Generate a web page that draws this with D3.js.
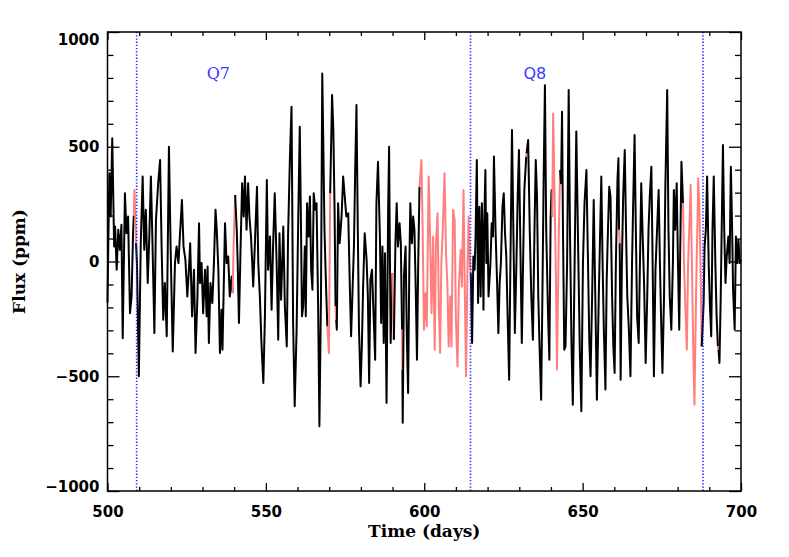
<!DOCTYPE html>
<html>
<head>
<meta charset="utf-8">
<script src="https://cdn.jsdelivr.net/npm/d3@7"></script>
<style>
  html, body { margin: 0; padding: 0; background: #fff; }
  svg { display: block; }
</style>
</head>
<body>
<svg id="chart" width="789" height="557"></svg>
<script>
// ---- data ----
const time = [
500.0,500.3,500.6,501.0,501.5,502.1,502.4,502.9,503.4,503.9,504.4,504.8,505.5,506.0,506.5,507.1,507.6,508.1,508.3,508.5,509.0,
509.3,509.9,510.5,511.1,511.6,512.1,512.7,513.2,513.7,514.2,514.8,515.3,516.0,516.6,517.1,517.6,518.1,518.7,519.4,519.9,
520.6,521.3,521.8,522.4,522.9,523.5,524.0,524.6,525.2,525.7,526.1,526.7,527.3,527.8,528.4,528.9,
529.2,529.7,530.2,530.8,531.3,531.6,532.0,532.5,533.1,533.6,534.1,534.5,535.0,535.5,536.0,536.3,537.1,537.6,538.1,538.6,539.2,
539.5,539.8,540.3,540.8,541.1,541.5,542.0,542.5,543.0,543.4,543.9,544.4,544.8,545.3,545.7,546.0,546.5,547.2,547.6,548.1,548.6,
549.2,549.7,550.3,550.7,551.3,551.8,552.3,552.8,553.4,553.9,554.3,554.8,555.5,556.0,556.6,557.0,557.6,558.1,
558.6,559.1,559.7,560.2,560.7,561.0,561.4,561.8,562.3,562.6,563.0,563.5,563.9,564.3,564.7,565.1,565.6,566.0,566.5,566.9,567.4,
567.8,568.1,568.5,568.9,569.4,569.9,570.3,570.9,571.3,571.7,572.0,572.2,572.4,572.8,573.3,573.9,574.4,574.9,575.4,576.0,576.5,
576.9,577.3,577.8,578.2,578.6,579.0,579.4,579.9,580.3,580.7,581.2,581.8,582.2,582.6,583.0,583.5,584.1,584.5,584.9,585.4,586.0,
586.4,586.8,587.2,587.6,588.1,588.6,588.9,
589.1,589.4,589.9,590.4,590.9,591.3,591.7,592.2,592.6,593.0,593.1,593.2,593.6,594.1,594.5,594.9,595.3,595.6,596.1,596.5,596.9,
597.3,597.7,598.1,598.5,599.1,599.5,599.9,600.4,600.8,601.4,601.8,602.3,602.8,603.3,603.7,604.2,604.6,605.0,605.4,605.8,606.4,
606.9,607.3,607.7,608.2,608.6,609.1,609.6,610.0,610.5,610.9,611.5,611.9,612.4,612.8,613.2,613.6,614.0,614.4,614.7,615.1,615.5,
615.9,616.2,616.6,617.0,617.4,617.8,618.2,618.7,
618.9,619.3,619.6,619.9,620.3,620.9,621.3,621.7,622.0,622.5,623.0,623.4,623.8,624.2,624.7,625.1,625.5,625.9,626.3,626.8,627.2,
627.7,628.1,628.6,629.1,629.5,629.9,630.3,630.8,631.2,631.6,632.2,632.3,632.8,633.3,633.8,634.3,634.8,635.2,635.6,636.0,636.4,
636.9,637.3,637.7,638.1,638.5,639.1,639.5,639.9,640.2,640.4,640.7,641.5,641.9,642.5,642.9,643.2,643.5,643.8,644.2,644.6,645.1,
645.6,646.0,646.5,646.9,
648.0,648.5,649.1,649.6,650.1,650.6,651.2,651.7,652.1,652.5,653.0,653.5,654.0,654.5,655.1,655.5,655.9,656.3,656.7,657.2,657.6,
658.0,658.4,658.8,659.3,659.7,660.1,660.5,661.0,661.3,661.5,661.7,662.0,662.4,662.8,663.3,663.7,664.1,664.6,665.1,665.6,666.0,
666.4,666.8,667.2,667.7,668.1,668.5,668.9,669.4,669.9,670.4,670.8,671.2,671.7,672.1,672.5,673.0,673.5,674.0,674.4,674.8,675.2,
675.7,676.1,676.7,677.1,677.5,678.0,
678.5,678.8,679.2,679.7,680.1,680.5,680.9,681.2,681.7,682.0,682.4,682.9,683.3,683.8,684.1,684.5,684.9,685.3,685.8,686.2,686.5,
686.9,687.2,687.6,688.2,688.5,688.9,689.3,689.8,690.2,690.6,691.0,691.4,691.9,692.3,692.7,692.9,693.2,693.6,693.9,694.3,694.7,
695.1,695.5,696.0,696.4,696.8,697.2,697.5,698.0,698.4,698.8,699.2,699.6,700.0
];
const flux = [
-180,120,384,196,537,65,152,-36,138,51,160,-334,297,123,196,-225,-152,138,200,312,80,
-7,-500,80,370,51,225,-94,109,370,80,-312,181,341,442,51,-254,-94,-326,500,80,
-392,-7,65,-7,123,268,65,7,-152,-36,80,-239,-36,-399,-152,167,
-94,-7,-225,-36,-239,-22,-355,-94,-181,-7,225,138,-36,-399,-210,-384,167,-7,22,-152,-65,
-138,65,290,138,-7,-268,51,341,196,370,138,341,196,109,-7,-109,65,326,-7,-152,-355,
-529,-239,355,-36,109,-210,80,297,-7,-341,123,-167,152,-196,-370,109,457,674,
-268,-631,-297,167,587,254,-239,-196,65,-239,254,109,283,-36,-123,297,225,254,-196,-718,-152,
819,544,138,-65,-283,-399,297,725,573,210,-196,-254,-297,254,80,196,370,283,196,210,-109,
-326,-152,65,399,682,167,-297,-544,-370,-109,123,7,-152,-529,-80,-36,-268,-428,254,435,109,
-268,65,-355,36,-616,225,500,
109,-355,-51,-341,80,254,65,167,80,-297,-471,-703,-65,65,-326,-573,-7,254,80,196,138,
-109,-428,-7,326,442,138,-297,-138,-283,370,138,-225,109,-384,80,210,-196,-399,-7,123,384,
22,-94,-370,-152,-370,225,181,-254,-457,-123,51,-109,312,-123,-500,-80,196,-7,-51,-355,22,
-36,109,442,-181,239,-152,254,-210,
138,399,-7,210,-152,-7,167,109,457,138,-94,-312,-94,-7,239,297,123,22,-225,-515,-7,
573,167,-312,-7,283,486,109,-355,-7,312,457,471,529,138,-152,-341,138,442,283,-152,-370,
-602,-152,370,768,138,-239,-428,196,312,196,645,-7,-471,138,399,341,652,138,-384,-370,-7,
747,138,-370,-624,
566,138,-384,-653,-7,254,399,-7,-341,-500,-152,268,-152,-602,-152,109,370,-7,-297,-558,-80,
138,326,283,-152,-370,-486,-7,355,450,138,80,-515,-7,283,486,138,-152,-297,-500,-7,283,
551,138,-239,-355,-7,341,138,-94,-442,-152,138,283,413,-7,-500,-36,138,312,-7,-268,-486,
-152,312,747,138,-152,-297,
-7,312,138,341,-7,-297,138,435,254,-7,-181,-384,-7,196,333,-7,-370,-624,-152,138,363,
210,-7,-370,-181,65,138,370,-7,-196,-326,138,370,-7,-239,-370,-384,-442,-152,138,508,138,
-94,22,109,-7,413,138,-123,-297,109,-7,94,-7,7
];
// intervals drawn in red (gap-filled data)
const gapStart = [508.3, 539.5, 569.4, 572.0, 589.9, 593.0, 598.5, 632.2, 640.4, 661.5, 681.7, 692.7];
const gapEnd   = [509.0, 540.3, 570.3, 572.2, 590.4, 593.1, 614.7, 632.3, 642.9, 661.7, 687.6, 692.9];
// quarter boundaries and labels
const quarterLines = [509.2, 614.6, 688.0];
const quarterLabels = [{ name: "Q7", t: 535.0 }, { name: "Q8", t: 634.9 }];
const xTicks = [500, 550, 600, 650, 700];
const yTicks = [-1000, -500, 0, 500, 1000];

// ---- drawing ----
const svg = d3.select("#chart");
const L = 107.5, R = 741, T = 32, B = 491;
const x = d3.scaleLinear().domain([500, 700]).range([L, R]);
const y = d3.scaleLinear().domain([-1000, 1000]).range([B, T]);

const pts = time.map((t, i) => ({ t, v: flux[i] }));
const inGap = (a, b) => gapStart.some((s, k) => a.t >= s - 1e-6 && b.t <= gapEnd[k] + 1e-6);

// group consecutive segments of the same colour into runs
const runs = [];
for (let i = 0; i < pts.length - 1; i++) {
  const red = inGap(pts[i], pts[i + 1]);
  const last = runs[runs.length - 1];
  if (last && last.red === red) last.pts.push(pts[i + 1]);
  else runs.push({ red, pts: [pts[i], pts[i + 1]] });
}

const line = d3.line().x(d => x(d.t)).y(d => y(d.v));
const plot = svg.append("g");
plot.selectAll("path.run").data(runs).join("path")
  .attr("class", "run")
  .attr("d", d => line(d.pts))
  .attr("fill", "none")
  .attr("stroke", d => d.red ? "#ff7f7f" : "#000")
  .attr("stroke-width", 2)
  .attr("stroke-linejoin", "round");

// quarter boundary lines
svg.selectAll("line.q").data(quarterLines).join("line")
  .attr("class", "q")
  .attr("x1", d => x(d)).attr("x2", d => x(d))
  .attr("y1", T).attr("y2", B)
  .attr("stroke", "#2222ff").attr("stroke-width", 1.6)
  .attr("stroke-dasharray", "1.3,1.9");

svg.selectAll("text.ql").data(quarterLabels).join("text")
  .attr("class", "ql")
  .attr("x", d => x(d.t)).attr("y", 79)
  .attr("text-anchor", "middle")
  .attr("fill", "#3a3aff")
  .attr("font-family", (d, i) => i === 0 ? "DejaVu Serif" : "DejaVu Sans")
  .attr("font-size", 16)
  .text(d => d.name);

// axes with inward ticks on all four sides (IDL style)
const xMinor = d3.range(500, 701, 10).filter(v => v % 50 !== 0);
const yMinor = d3.range(-1000, 1001, 100).filter(v => v % 500 !== 0);

const xb = svg.append("g").attr("transform", `translate(0,${B})`)
  .call(d3.axisBottom(x).tickValues(xTicks).tickSize(-8).tickFormat(d3.format("d")).tickPadding(16));
const xbm = svg.append("g").attr("transform", `translate(0,${B})`)
  .call(d3.axisBottom(x).tickValues(xMinor).tickSize(-4).tickFormat(""));
const xt = svg.append("g").attr("transform", `translate(0,${T})`)
  .call(d3.axisTop(x).tickValues(xTicks).tickSize(-8).tickFormat(""));
const xtm = svg.append("g").attr("transform", `translate(0,${T})`)
  .call(d3.axisTop(x).tickValues(xMinor).tickSize(-4).tickFormat(""));
const yl = svg.append("g").attr("transform", `translate(${L},0)`)
  .call(d3.axisLeft(y).tickValues(yTicks).tickSize(-12).tickFormat(d3.format("d")).tickPadding(9));
const ylm = svg.append("g").attr("transform", `translate(${L},0)`)
  .call(d3.axisLeft(y).tickValues(yMinor).tickSize(-6).tickFormat(""));
const yr = svg.append("g").attr("transform", `translate(${R},0)`)
  .call(d3.axisRight(y).tickValues(yTicks).tickSize(-12).tickFormat(""));
const yrm = svg.append("g").attr("transform", `translate(${R},0)`)
  .call(d3.axisRight(y).tickValues(yMinor).tickSize(-6).tickFormat(""));

[xb, xbm, xt, xtm, yl, ylm, yr, yrm].forEach(g => {
  g.select(".domain").remove();
  g.selectAll(".tick line").attr("stroke", "#000").attr("stroke-width", 1.3);
  g.selectAll("text")
    .attr("fill", "#000")
    .attr("font-family", "DejaVu Sans")
    .attr("font-weight", "bold")
    .attr("font-size", 15);
});
// keep the end labels of the y axis inside the frame, as in the reference
yl.selectAll(".tick text").attr("dy", d => d === 1000 ? "0.85em" : d === -1000 ? "0.05em" : "0.32em")
  .attr("x", -8);
xb.selectAll(".tick text").attr("dy", "0.72em").attr("y", 15);

// frame
svg.append("rect")
  .attr("x", L).attr("y", T).attr("width", R - L).attr("height", B - T)
  .attr("fill", "none").attr("stroke", "#000").attr("stroke-width", 1.5);

// axis titles
svg.append("text")
  .attr("x", (L + R) / 2).attr("y", 537)
  .attr("text-anchor", "middle")
  .attr("font-family", "DejaVu Serif").attr("font-weight", "bold").attr("font-size", 17)
  .text("Time (days)");
svg.append("text")
  .attr("transform", `translate(25,${(T + B) / 2}) rotate(-90)`)
  .attr("text-anchor", "middle")
  .attr("font-family", "DejaVu Serif").attr("font-weight", "bold").attr("font-size", 17)
  .text("Flux (ppm)");
</script>
</body>
</html>
